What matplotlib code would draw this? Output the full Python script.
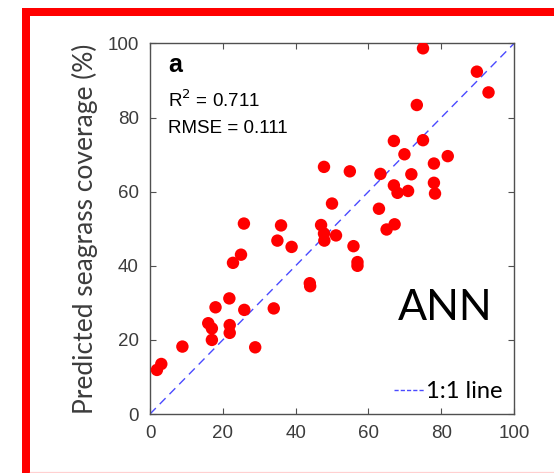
import matplotlib
matplotlib.use("Agg")
import matplotlib.pyplot as plt
from matplotlib.lines import Line2D
from matplotlib.patches import Rectangle

observed = [1.9, 3.1, 8.9, 16.0, 17.0, 17.0, 18.0, 21.8, 21.9, 21.9, 22.8, 25.0, 25.8, 25.9,
            28.9, 34.0, 35.0, 36.0, 38.9, 43.9, 44.0, 47.0, 47.8, 47.8, 47.9, 50.0, 51.1,
            54.9, 55.9, 57.0, 57.0, 62.9, 63.3, 65.0, 67.0, 67.0, 67.2, 68.0, 69.9, 70.9,
            71.8, 73.3, 75.0, 75.0, 78.0, 78.0, 78.3, 81.8, 89.8, 93.0]
predicted = [11.9, 13.5, 18.2, 24.5, 23.1, 20.0, 28.8, 31.2, 24.0, 21.9, 40.8, 43.0, 51.4, 28.1,
             18.0, 28.5, 46.8, 50.9, 45.1, 35.3, 34.5, 51.0, 66.7, 48.7, 46.8, 56.8, 48.2,
             65.5, 45.3, 41.0, 40.0, 55.4, 64.8, 49.8, 73.7, 61.7, 51.2, 59.7, 70.1, 60.2,
             64.7, 83.4, 98.7, 73.9, 67.6, 62.4, 59.5, 69.6, 92.4, 86.8]
one_to_one = [0, 100]
ticks = [0, 20, 40, 60, 80, 100]
panel_label = "a"
stats_r2 = "R$^2$ = 0.711"
stats_rmse = "RMSE = 0.111"
model_name = "ANN"
legend_label = "1:1 line"
ylabel = "Predicted seagrass coverage (%)"

W, H = 554, 473
fig = plt.figure(figsize=(W / 100, H / 100), dpi=100)

# background frame (pixel coordinates)
bg = fig.add_axes([0, 0, 1, 1], zorder=-5)
bg.set_xlim(0, W)
bg.set_ylim(H, 0)
bg.axis("off")
bg.add_patch(Rectangle((22, 8), W, 8, color="#ff0000", lw=0))
bg.add_patch(Rectangle((22, 8), 8, H, color="#ff0000", lw=0))
bg.plot([30, W], [471.5, 471.5], color="#ffd0d0", lw=0.9)

ax = fig.add_axes([150 / W, 1 - 414 / H, (514 - 150) / W, (414 - 43.5) / H])
ax.set_xlim(0, 100)
ax.set_ylim(0, 100)

ax.scatter(observed, predicted, s=80, color="#ff0000", edgecolors="none", zorder=3)
ax.plot(one_to_one, one_to_one, color="#4a4aff", lw=1.0, ls=(0, (6, 4)), zorder=2)

ax.set_xticks(ticks)
ax.set_yticks(ticks)
ax.tick_params(direction="in", top=True, right=True, length=4, width=0.8,
               color="#505050", labelsize=13.5, labelcolor="#3c3c3c", pad=8)
for lab in ax.get_xticklabels() + ax.get_yticklabels():
    lab.set_family("Liberation Sans")
for sp in ax.spines.values():
    sp.set_color("#505050")
    sp.set_linewidth(1.0)

ax.set_ylabel(ylabel, fontsize=19, family="Lato", color="#3c3c3c", labelpad=7)

ax.text(4.9, 92.3, panel_label, fontsize=18, fontweight="bold", family="Liberation Sans",
        va="baseline", ha="left")
ax.text(4.9, 82.9, stats_r2, fontsize=13.5, family="Liberation Sans", va="baseline", ha="left")
ax.text(4.9, 75.9, stats_rmse, fontsize=13.5, family="Liberation Sans", va="baseline", ha="left")
ax.text(68.0, 25.4, model_name, fontsize=31, family="Lato", va="baseline", ha="left")

handle = Line2D([], [], color="#4a4aff", lw=1.0, ls=(0, (3, 1.5)))
ax.legend([handle], [legend_label], loc="lower right", frameon=False,
          prop={"family": "Lato", "size": 17}, handlelength=1.3, handletextpad=0.05,
          borderaxespad=0.3, borderpad=0.2)

fig.savefig("out.png", dpi=100)
